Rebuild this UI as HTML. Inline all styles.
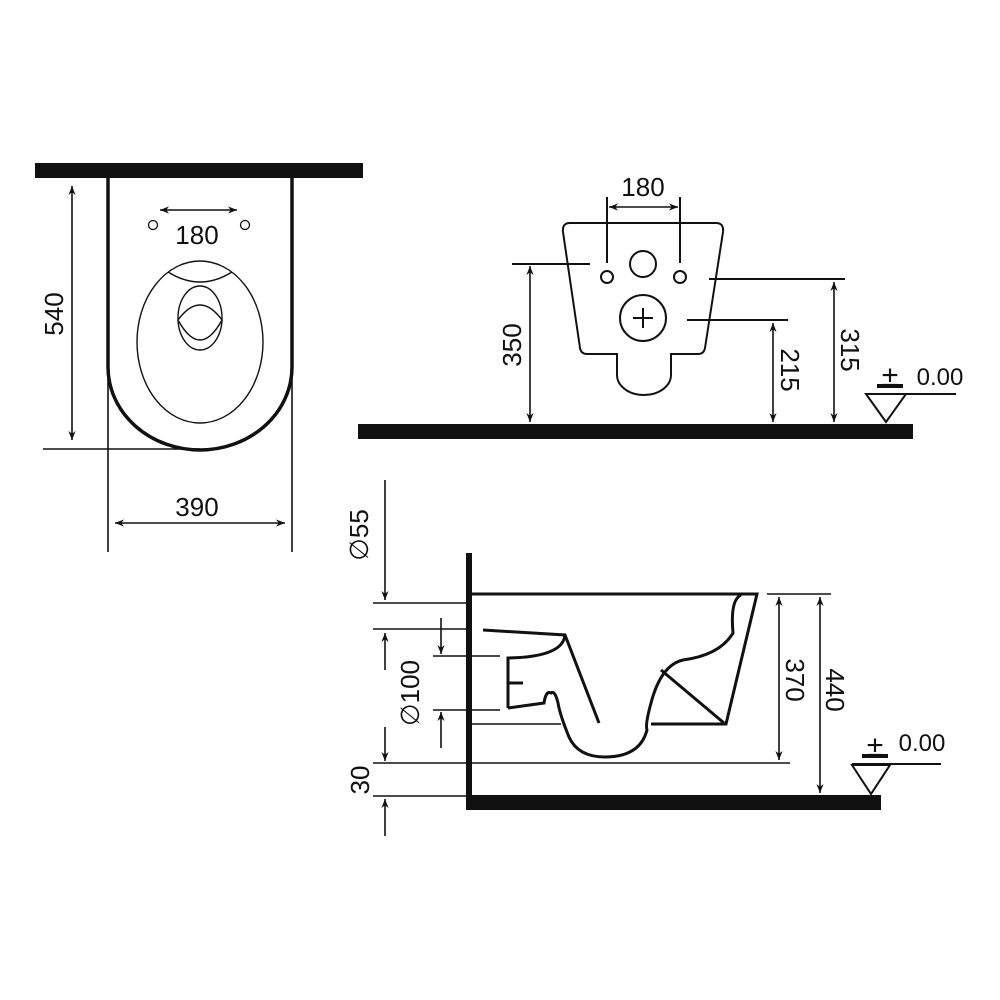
<!DOCTYPE html>
<html><head><style>html,body{margin:0;padding:0;background:#fff}svg{display:block}</style></head>
<body>
<svg width="1000" height="1000" viewBox="0 0 1000 1000" xmlns="http://www.w3.org/2000/svg">
<defs>
<marker id="a" viewBox="0 0 10 10" refX="10" refY="5" markerWidth="9" markerHeight="9" orient="auto-start-reverse" markerUnits="userSpaceOnUse"><path d="M0,1 L10,5 L0,9 L3,5 Z" fill="#111"/></marker>
</defs>
<g fill="none" stroke="#111" stroke-width="1.6" font-family="'Liberation Sans',sans-serif">
<!-- TOP VIEW -->
<rect x="35" y="163" width="328" height="15" fill="#111" stroke="none"/>
<path d="M108,178 L108,367 A92,83 0 0 0 292,367 L292,178" stroke-width="3.5"/>
<line x1="108" y1="367" x2="108" y2="552"/>
<line x1="292" y1="367" x2="292" y2="552"/>
<line x1="43" y1="449" x2="200" y2="449"/>
<line x1="72" y1="186" x2="72" y2="440" marker-start="url(#a)" marker-end="url(#a)"/>
<line x1="115" y1="523" x2="285" y2="523" marker-start="url(#a)" marker-end="url(#a)"/>
<line x1="160" y1="210" x2="237" y2="210" marker-start="url(#a)" marker-end="url(#a)"/>
<circle cx="153" cy="225" r="4.5" stroke-width="1.3"/>
<circle cx="245" cy="225" r="4.5" stroke-width="1.3"/>
<ellipse cx="200" cy="342" rx="63" ry="81" stroke-width="1.4"/>
<path d="M168,272 Q200,292 232,272" stroke-width="1.4"/>
<ellipse cx="200" cy="318" rx="22" ry="32" stroke-width="1.4"/>
<path d="M178,320 Q200,290 222,320 Q200,360 178,320" stroke-width="1.4"/>
<!-- FRONT VIEW -->
<rect x="358" y="424" width="555" height="15" fill="#111" stroke="none"/>
<path d="M570,223 L716,223 Q724,223 723,232 L705,348 Q704,354 698,354 L671,354 L671,375 A27,20 0 0 1 617,375 L617,354 L587,354 Q581,354 580,348 L563,232 Q562,223 570,223 Z" stroke-width="2"/>
<circle cx="607" cy="277" r="6" stroke-width="2"/>
<circle cx="680" cy="277" r="6" stroke-width="2"/>
<circle cx="643" cy="264" r="13" stroke-width="2"/>
<circle cx="643" cy="318" r="23" stroke-width="2"/>
<path d="M643,308 V328 M633,318 H653" stroke-width="2"/>
<line x1="607" y1="197" x2="607" y2="263" stroke-width="2"/>
<line x1="680" y1="197" x2="680" y2="263" stroke-width="2"/>
<line x1="609" y1="207" x2="678" y2="207" marker-start="url(#a)" marker-end="url(#a)"/>
<line x1="512" y1="264" x2="590" y2="264" stroke-width="2"/>
<line x1="530" y1="266" x2="530" y2="422" marker-start="url(#a)" marker-end="url(#a)"/>
<line x1="709" y1="279" x2="845" y2="279" stroke-width="2"/>
<line x1="834" y1="282" x2="834" y2="422" marker-start="url(#a)" marker-end="url(#a)"/>
<line x1="687" y1="320" x2="788" y2="320" stroke-width="2"/>
<line x1="773" y1="323" x2="773" y2="422" marker-start="url(#a)" marker-end="url(#a)"/>
<line x1="866" y1="394" x2="956" y2="394" stroke-width="2"/>
<path d="M866,394 L906,394 L886,422 Z" stroke-width="2"/>
<rect x="877" y="384" width="26" height="4" fill="#111" stroke="none"/>
<!-- SIDE VIEW -->
<rect x="466" y="553" width="6" height="257" fill="#111" stroke="none"/>
<rect x="466" y="795" width="415" height="15" fill="#111" stroke="none"/>
<path d="M472,594 L757,594 L726,724 L651,724" stroke-width="3"/>
<path d="M741,595 Q730,600 733,633 Q720,655 683,660 Q661,665 651,703 Q645,725 647,730 Q640,757 605,757 Q578,757 569,737 Q560,715 558,703 Q555,690 551,693 Q546,690 544,703 L508,708" stroke-width="3"/>
<path d="M483,630 L565,635 L599,723" stroke-width="3"/>
<path d="M565,635 Q563,657 508,658 L508,708 M508,683 H523" stroke-width="3"/>
<line x1="661" y1="670" x2="724" y2="723" stroke-width="3"/>
<line x1="373" y1="603" x2="466" y2="603"/>
<line x1="373" y1="629" x2="466" y2="629"/>
<line x1="433" y1="656" x2="500" y2="656"/>
<line x1="433" y1="710" x2="500" y2="710"/>
<line x1="472" y1="724" x2="561" y2="724"/>
<line x1="373" y1="763" x2="790" y2="763"/>
<line x1="373" y1="796" x2="466" y2="796"/>
<line x1="767" y1="594" x2="831" y2="594"/>
<line x1="779" y1="597" x2="779" y2="760" marker-start="url(#a)" marker-end="url(#a)"/>
<line x1="820" y1="597" x2="820" y2="793" marker-start="url(#a)" marker-end="url(#a)"/>
<line x1="385" y1="480" x2="385" y2="600" marker-end="url(#a)"/>
<line x1="385" y1="670" x2="385" y2="633" marker-end="url(#a)"/>
<line x1="441" y1="618" x2="441" y2="654" marker-end="url(#a)"/>
<line x1="441" y1="748" x2="441" y2="712" marker-end="url(#a)"/>
<line x1="385" y1="727" x2="385" y2="761" marker-end="url(#a)"/>
<line x1="385" y1="836" x2="385" y2="799" marker-end="url(#a)"/>
<line x1="852" y1="764" x2="941" y2="764" stroke-width="2"/>
<path d="M852,765 L890,765 L871,794 Z" stroke-width="2"/>
<rect x="862" y="754" width="26" height="4" fill="#111" stroke="none"/>
</g>
<g fill="#111" font-family="'Liberation Sans',sans-serif" font-size="26" text-anchor="middle">
<text x="197" y="244">180</text>
<text x="197" y="516">390</text>
<text transform="translate(63,314) rotate(-90)">540</text>
<text x="643" y="196">180</text>
<text transform="translate(521,345) rotate(-90)">350</text>
<text transform="translate(841,350) rotate(90)">315</text>
<text transform="translate(781,370) rotate(90)">215</text>
<text x="890" y="386" font-size="30">±</text>
<text x="940" y="385" font-size="24">0.00</text>
<text transform="translate(786,680) rotate(90)">370</text>
<text transform="translate(826,690) rotate(90)">440</text>
<text transform="translate(368,535) rotate(-90)">∅55</text>
<text transform="translate(419,693) rotate(-90)">∅100</text>
<text transform="translate(369,780) rotate(-90)">30</text>
<text x="875" y="756" font-size="30">±</text>
<text x="922" y="751" font-size="24">0.00</text>
</g>
</svg>
</body></html>
